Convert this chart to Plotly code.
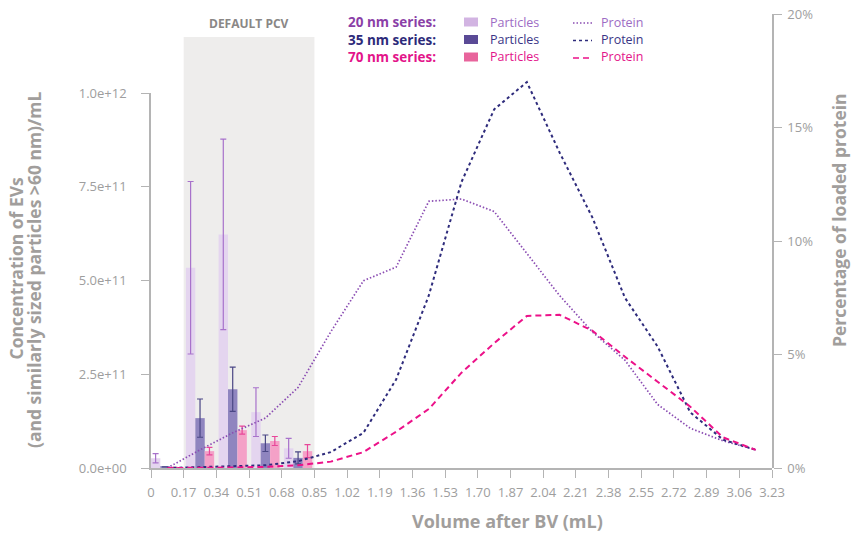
import plotly.graph_objects as go

# ---------------- data ----------------
x_ticks = [0, 0.17, 0.34, 0.51, 0.68, 0.85, 1.02, 1.19, 1.36, 1.53, 1.70, 1.87,
           2.04, 2.21, 2.38, 2.55, 2.72, 2.89, 3.06, 3.23]
x_tick_text = ["0", "0.17", "0.34", "0.51", "0.68", "0.85", "1.02", "1.19", "1.36",
               "1.53", "1.70", "1.87", "2.04", "2.21", "2.38", "2.55", "2.72", "2.89",
               "3.06", "3.23"]

left_tick_vals = [0, 2.5e11, 5e11, 7.5e11, 1e12]
left_tick_text = ["0.0e+00", "2.5e+11", "5.0e+11", "7.5e+11", "1.0e+12"]
right_tick_vals = [0, 5, 10, 15, 20]
right_tick_text = ["0%", "5%", "10%", "15%", "20%"]

# particle concentrations (bars)
bar_x = [0.073, 0.255, 0.425, 0.595, 0.765]
p20_particles = [2.6e10, 5.34e11, 6.23e11, 1.49e11, 5.25e10]
p20_err = [1.25e10, 2.30e11, 2.54e11, 6.5e10, 2.65e10]
p35_particles = [3e9, 1.33e11, 2.10e11, 6.6e10, 2.7e10]
p35_err = [None, 5.1e10, 5.9e10, 2.2e10, 1.6e10]
p70_particles = [1.5e9, 4.5e10, 1.01e11, 7.2e10, 4.5e10]
p70_err = [None, 1.0e10, 1.05e10, 1.2e10, 1.75e10]

# protein percentage (lines)
line_x = [0.085, 0.255, 0.425, 0.595, 0.765, 0.935, 1.105, 1.275, 1.445, 1.615,
          1.785, 1.955, 2.125, 2.295, 2.465, 2.635, 2.805, 2.975, 3.145]
prot20 = [0, 0.8, 1.55, 2.2, 3.55, 6.0, 8.25, 8.85, 11.75, 11.85, 11.3, 9.45, 7.6,
          6.0, 4.75, 2.8, 1.75, 1.2, 0.8]
prot35 = [0, 0.05, 0.1, 0.12, 0.3, 0.7, 1.55, 3.9, 7.6, 12.6, 15.8, 17.0, 13.9,
          11.05, 7.5, 5.35, 2.45, 1.25, 0.8]
prot70 = [0, 0, 0.02, 0.05, 0.12, 0.28, 0.7, 1.6, 2.6, 4.2, 5.5, 6.7, 6.75, 6.05,
          4.9, 3.8, 2.7, 1.35, 0.8]

pcv_range = [0.17, 0.85]

# ---------------- style ----------------
W, H = 854, 534
ML, MR, MT, MB = 151, 82, 14, 66
PW, PH = W - ML - MR, H - MT - MB
FONT = "Open Sans"
GREY = "#a19e9c"
TICK_GREY = "#9e9e9e"
AXIS_GREY = "#b4b4b4"

C20, C35, C70 = "#8b4db3", "#2f2c7c", "#ec1289"


def px(xp):
    return (xp - ML) / PW


def py(yp):
    return (H - MB - yp) / PH


fig = go.Figure()

bw = 0.049
bar_specs = [
    (p20_particles, p20_err, "#e4d5ef", "#a872cb", -1.5 * bw),
    (p35_particles, p35_err, "#8f85bf", "#4a4785", -0.5 * bw),
    (p70_particles, p70_err, "#f4a1c7", "#e8479a", 0.5 * bw),
]
for vals, err, col, ecol, off in bar_specs:
    fig.add_trace(go.Bar(
        x=bar_x, y=vals, width=bw, offset=off, marker=dict(color=col, line=dict(width=0)),
        error_y=dict(type="data", array=err, color=ecol, thickness=1.2, width=3),
        xaxis="x", yaxis="y", showlegend=False, hoverinfo="skip"))

line_specs = [
    (prot20, C20, "1.5px,2px", 1.7),
    (prot35, C35, "3px,3px", 2),
    (prot70, C70, "6px,4px", 2),
]
for vals, col, dash, w in line_specs:
    fig.add_trace(go.Scatter(
        x=line_x, y=vals, mode="lines", line=dict(color=col, dash=dash, width=w),
        xaxis="x", yaxis="y2", showlegend=False, hoverinfo="skip"))

shapes = []
# default PCV region
shapes.append(dict(type="rect", xref="x", yref="paper", x0=pcv_range[0], x1=pcv_range[1],
                   y0=0, y1=py(37), fillcolor="#eeedec", line=dict(width=0), layer="below"))

# legend swatches
rows = [
    ("20 nm series:", "#8b3fa7", "#d2b4e2", "#9d6cc4", C20, "1.5px,2px", 22),
    ("35 nm series:", "#2d2a7a", "#5a4a96", "#3a3586", C35, "3px,3px", 39.5),
    ("70 nm series:", "#e3148a", "#e8649c", "#e3148a", C70, "6px,4px", 57),
]
annotations = []
for label, lcol, sq, tcol, lc, dash, yc in rows:
    annotations.append(dict(text="<b>%s</b>" % label, xref="paper", yref="paper",
                            x=px(347), y=py(yc), xanchor="left", yanchor="middle",
                            showarrow=False, borderpad=0,
                            font=dict(family=FONT, size=13.5, color=lcol)))
    shapes.append(dict(type="rect", xref="paper", yref="paper", x0=px(464), x1=px(478),
                       y0=py(yc + 4.5), y1=py(yc - 4.5), fillcolor=sq, line=dict(width=0)))
    annotations.append(dict(text="Particles", xref="paper", yref="paper", x=px(489),
                            y=py(yc), xanchor="left", yanchor="middle", showarrow=False,
                            borderpad=0, font=dict(family=FONT, size=12.5, color=tcol)))
    shapes.append(dict(type="line", xref="paper", yref="paper", x0=px(573), x1=px(592),
                       y0=py(yc + 1), y1=py(yc + 1), line=dict(color=lc, dash=dash, width=1.6)))
    annotations.append(dict(text="Protein", xref="paper", yref="paper", x=px(600),
                            y=py(yc), xanchor="left", yanchor="middle", showarrow=False,
                            borderpad=0, font=dict(family=FONT, size=12.5, color=tcol)))

annotations += [
    dict(text="<b>DEFAULT PCV</b>", xref="x", yref="paper", x=sum(pcv_range) / 2, y=py(23),
         xanchor="center", yanchor="middle", showarrow=False,
         font=dict(family=FONT, size=12, color="#8a8786")),
    dict(text="<b>Volume after BV (mL)</b>", xref="paper", yref="paper", x=px(507), y=py(521),
         xanchor="center", yanchor="middle", showarrow=False,
         font=dict(family=FONT, size=18, color=GREY)),
    dict(text="<b>Concentration of EVs</b>", xref="paper", yref="paper", x=px(15.5), y=py(268),
         xanchor="center", yanchor="middle", textangle=-90, showarrow=False,
         font=dict(family=FONT, size=17.5, color=GREY)),
    dict(text="<b>(and similarly sized particles >60 nm)/mL</b>", xref="paper", yref="paper",
         x=px(34), y=py(270), xanchor="center", yanchor="middle", textangle=-90,
         showarrow=False, font=dict(family=FONT, size=17.5, color=GREY)),
    dict(text="<b>Percentage of loaded protein</b>", xref="paper", yref="paper", x=px(839),
         y=py(220), xanchor="center", yanchor="middle", textangle=-90, showarrow=False,
         font=dict(family=FONT, size=17.5, color=GREY)),
]

tickfont = dict(family=FONT, size=13, color=TICK_GREY)
common = dict(showgrid=False, zeroline=False, showline=True, linecolor=AXIS_GREY,
              linewidth=1.5, ticks="outside", ticklen=8, tickcolor=AXIS_GREY,
              tickwidth=1.2, tickfont=tickfont, automargin=False)
fig.update_layout(
    width=W, height=H,
    margin=dict(l=ML, r=MR, t=MT, b=MB, autoexpand=False),
    paper_bgcolor="white", plot_bgcolor="rgba(0,0,0,0)",
    barmode="overlay", hovermode=False,
    xaxis=dict(range=[0, 3.23], tickvals=x_ticks, ticktext=x_tick_text, anchor="y",
               ticklabelstandoff=4, **common),
    yaxis=dict(domain=[0, (468 - 93) / PH], range=[0, 1e12], tickvals=left_tick_vals,
               ticktext=left_tick_text, anchor="x", ticklabelstandoff=12, **common),
    yaxis2=dict(domain=[0, 1], range=[0, 20], tickvals=right_tick_vals,
                ticktext=right_tick_text, side="right", anchor="x", ticklabelstandoff=3,
                **common),
    shapes=shapes, annotations=annotations,
)

fig.write_html("out.html", config={"displayModeBar": False},
               post_script="document.body.style.margin='0';")
